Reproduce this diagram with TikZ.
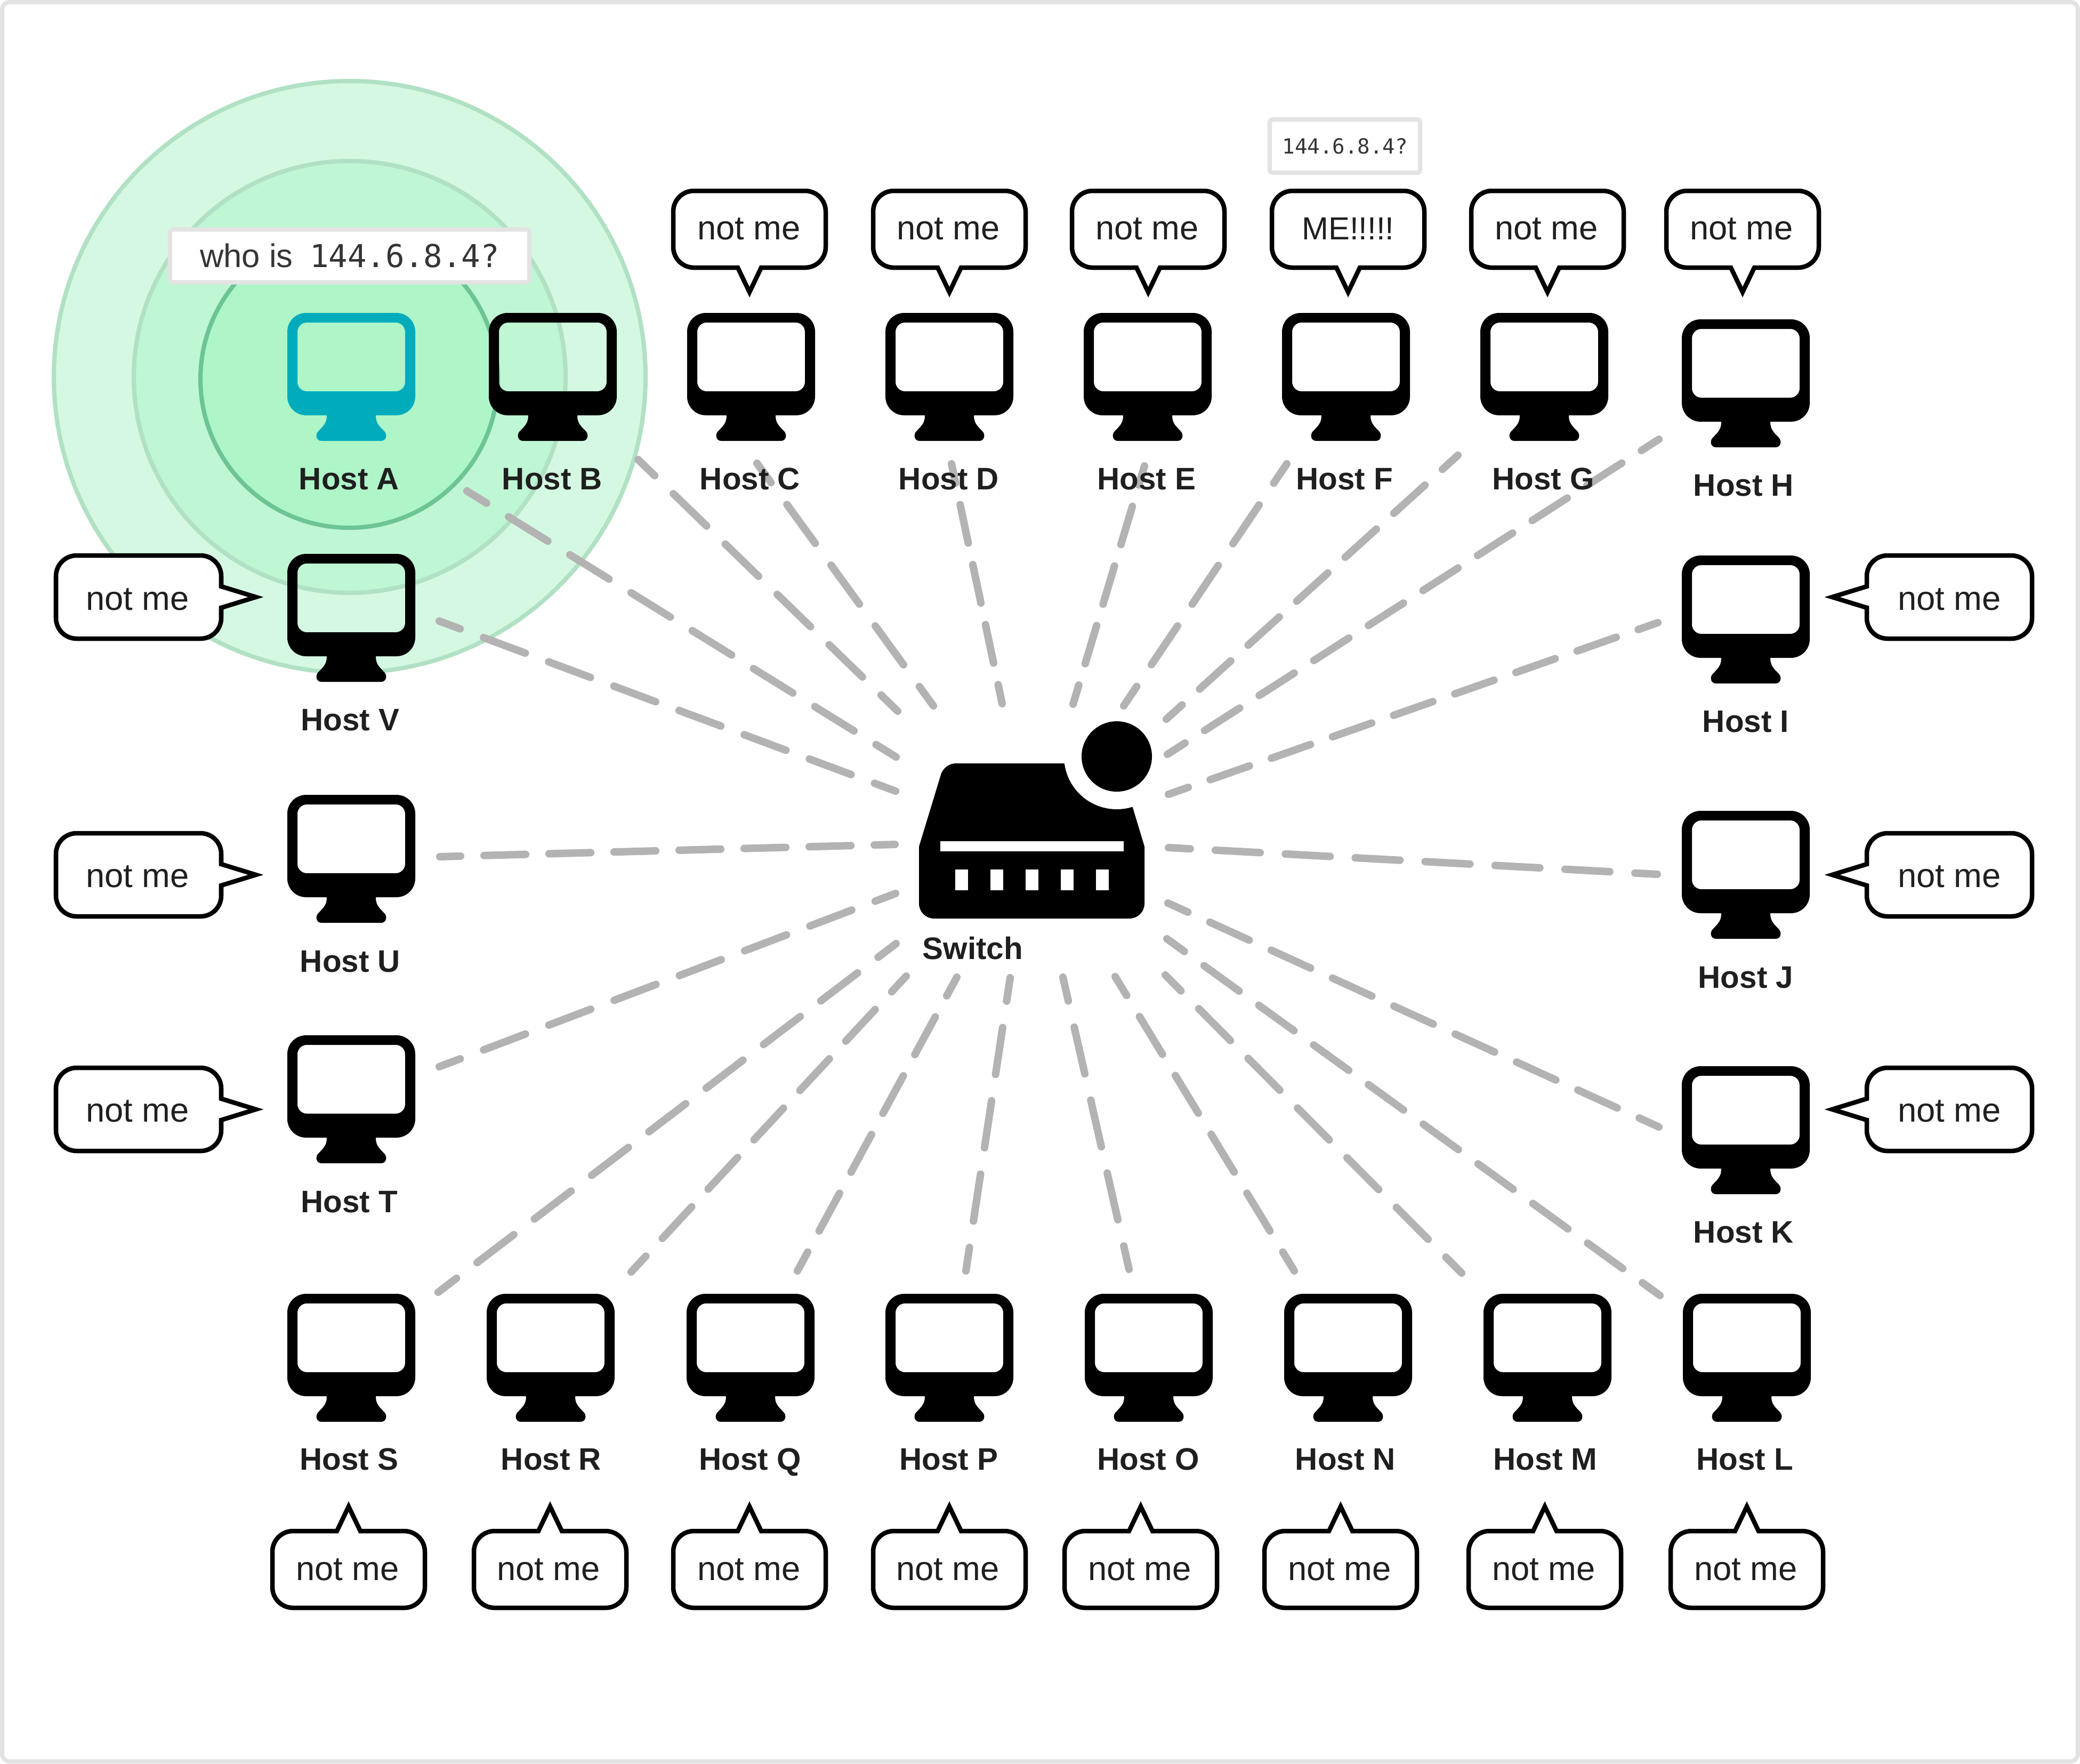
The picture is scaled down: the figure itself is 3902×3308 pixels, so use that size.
\documentclass[tikz,border=0pt]{standalone}
\usepackage{xcolor}
\usepackage{fontspec}
\setmainfont{Liberation Sans}
\newfontfamily\ipfont{DejaVu Sans Mono}
\usepackage{tikz}
\usetikzlibrary{positioning,calc}

\definecolor{framegray}{HTML}{E3E3E3}
\definecolor{wiregray}{HTML}{B3B3B3}
\definecolor{hostteal}{HTML}{00ACBC}
\definecolor{textdark}{HTML}{1F1F1F}
\definecolor{ringline}{HTML}{B1E1C4}
\definecolor{ringinner}{HTML}{6DC494}
\definecolor{ringfillA}{HTML}{D5F8E2}
\definecolor{ringfillB}{HTML}{BFF6D4}
\definecolor{ringfillC}{HTML}{AEF5C8}

\begin{document}
\begin{tikzpicture}[
    x=0.01cm, y=-0.01cm,
    ring/.style={draw=ringline, line width=2.3pt},
    wire/.style={draw=wiregray, line width=4pt, line cap=round,
        dash pattern=on {#1*0.64*0.2845pt} off {#1*0.36*0.2845pt},
        dash phase={#1*0.32*0.2845pt}},
    hostlabel/.style={anchor=base, inner sep=0pt, text=textdark, font=\fontsize{16.6}{20}\selectfont\bfseries},
    saying/.style={anchor=base, inner sep=0pt, text=textdark, font=\fontsize{18}{20}\selectfont},
    askbox/.style={draw=framegray, fill=white, line width=2.3pt, rounded corners=1.5pt, inner sep=0pt, text=textdark!90},
    pics/monitor/.style={code={
        \fill[pic actions, even odd rule] (46,192) [rounded corners=10pt] -- (120,192) -- (120,0) -- (-120,0) -- (-120,192) [sharp corners] -- (-46,192)
            .. controls (-46,205) and (-50,210) .. (-62,222) .. controls (-68,228) and (-66,240) .. (-56,240) -- (56,240)
            .. controls (66,240) and (68,228) .. (62,222) .. controls (50,210) and (46,205) .. (46,192) -- cycle
            (-101,18) [rounded corners=5pt] -- (101,18) -- (101,147) -- (-101,147) -- cycle;
    }},
    pics/bubble/.style n args={4}{code={
        \draw[fill=white, line width=2.42pt, miter limit=10] (-#3,#2) [rounded corners=11pt] -- (-#1,#2) -- (-#1,-#2) -- (#1,-#2) -- (#1,#2) [sharp corners] -- (#3,#2) -- (0,{#2+#4}) -- cycle;
    }},
    node distance=1.2cm
]
    % frame and margins
    \useasboundingbox (0,0) rectangle (3902,3308);
    \draw[draw=framegray, fill=white, line width=2.3pt, rounded corners=4pt] (4,4) rectangle (3898,3304);

    % broadcast rings round host A
    \draw[ring, fill=ringfillA] (656,707) circle[radius=555];
    \draw[ring, fill=ringfillB] (656,707) circle[radius=405];
    \draw[ring, draw=ringinner, fill=ringfillC] (655,711) circle[radius=279];

    % switch
    \fill (1724,1588) [rounded corners=6pt] -- (1771.5,1432) [sharp corners] -- (2100,1432) -- (2147,1588) [rounded corners=8pt] -- (2147,1723) -- (1724,1723) [sharp corners] -- cycle;
    \fill[white] (2095,1419) circle[radius=99];
    \fill (2095,1419) circle[radius=66];
    \fill[white] (1764,1578) rectangle (2108,1597);
    \fill[white] (1792,1631) rectangle (1816,1670);
    \fill[white] (1858,1631) rectangle (1882,1670);
    \fill[white] (1924,1631) rectangle (1948,1670);
    \fill[white] (1990,1631) rectangle (2014,1670);
    \fill[white] (2056,1631) rectangle (2080,1670);
    \node[hostlabel] (switch) at (1825,1799) {Switch};

    % wire ends
    \coordinate (wA) at (876,921);   \coordinate (sA) at (1681,1420);
    \coordinate (wB) at (1197,862);  \coordinate (sB) at (1684,1334);
    \coordinate (wC) at (1420,869);  \coordinate (sC) at (1751,1324);
    \coordinate (wD) at (1785,870);  \coordinate (sD) at (1880,1320);
    \coordinate (wE) at (2147,874);  \coordinate (sE) at (2013,1321);
    \coordinate (wF) at (2414,870);  \coordinate (sF) at (2108,1324);
    \coordinate (wG) at (2735,854);  \coordinate (sG) at (2188,1349);
    \coordinate (wH) at (3112,824);  \coordinate (sH) at (2190,1415);
    \coordinate (wI) at (3110,1168); \coordinate (sI) at (2192,1490);
    \coordinate (wJ) at (3109,1640); \coordinate (sJ) at (2192,1590);
    \coordinate (wK) at (3112,2114); \coordinate (sK) at (2191,1694);
    \coordinate (wL) at (3114,2430); \coordinate (sL) at (2189,1761);
    \coordinate (wM) at (2742,2388); \coordinate (sM) at (2186,1829);
    \coordinate (wN) at (2428,2384); \coordinate (sN) at (2092,1832);
    \coordinate (wO) at (2118,2381); \coordinate (sO) at (1994,1833);
    \coordinate (wP) at (1812,2384); \coordinate (sP) at (1895,1834);
    \coordinate (wQ) at (1496,2384); \coordinate (sQ) at (1795,1833);
    \coordinate (wR) at (1184,2386); \coordinate (sR) at (1700,1831);
    \coordinate (wS) at (822,2424);  \coordinate (sS) at (1681,1770);
    \coordinate (wT) at (824,2001);  \coordinate (sT) at (1680,1676);
    \coordinate (wU) at (825,1607);  \coordinate (sU) at (1679,1584);
    \coordinate (wV) at (824,1165);  \coordinate (sV) at (1680,1484);

    \draw[wire=135.1] (wA) -- (sA);
    \draw[wire=135.6] (wB) -- (sB);
    \draw[wire=140.7] (wC) -- (sC);
    \draw[wire=115.0] (wD) -- (sD);
    \draw[wire=116.6] (wE) -- (sE);
    \draw[wire=136.8] (wF) -- (sF);
    \draw[wire=122.8] (wG) -- (sG);
    \draw[wire=121.6] (wH) -- (sH);
    \draw[wire=121.5] (wI) -- (sI);
    \draw[wire=131.3] (wJ) -- (sJ);
    \draw[wire=126.4] (wK) -- (sK);
    \draw[wire=126.8] (wL) -- (sL);
    \draw[wire=131.4] (wM) -- (sM);
    \draw[wire=129.2] (wN) -- (sN);
    \draw[wire=140.2] (wO) -- (sO);
    \draw[wire=139.0] (wP) -- (sP);
    \draw[wire=125.4] (wQ) -- (sQ);
    \draw[wire=126.3] (wR) -- (sR);
    \draw[wire=135.0] (wS) -- (sS);
    \draw[wire=130.9] (wT) -- (sT);
    \draw[wire=122.0] (wU) -- (sU);
    \draw[wire=130.4] (wV) -- (sV);

    % hosts, top row
    \pic[fill=hostteal] at (659,587) {monitor};
    \pic at (1037,587) {monitor};
    \pic at (1409,587) {monitor};
    \pic at (1781,587) {monitor};
    \pic at (2153,587) {monitor};
    \pic at (2525,587) {monitor};
    \pic at (2897,587) {monitor};
    \pic at (3275,599) {monitor};
    % hosts, left and right columns
    \pic at (659,1039) {monitor};
    \pic at (659,1491) {monitor};
    \pic at (659,1942) {monitor};
    \pic at (3275,1042) {monitor};
    \pic at (3275,1521) {monitor};
    \pic at (3275,2000) {monitor};
    % hosts, bottom row
    \pic at (659,2427) {monitor};
    \pic at (1033,2427) {monitor};
    \pic at (1408,2427) {monitor};
    \pic at (1781,2427) {monitor};
    \pic at (2155,2427) {monitor};
    \pic at (2529,2427) {monitor};
    \pic at (2903,2427) {monitor};
    \pic at (3277,2427) {monitor};

    \node[hostlabel] (hostA) at (655,918) {Host A};
    \node[hostlabel] (hostB) at (1036,918) {Host B};
    \node[hostlabel] (hostC) at (1407,918) {Host C};
    \node[hostlabel] (hostD) at (1780,918) {Host D};
    \node[hostlabel] (hostE) at (2151,918) {Host E};
    \node[hostlabel] (hostF) at (2522,918) {Host F};
    \node[hostlabel] (hostG) at (2895,918) {Host G};
    \node[hostlabel] (hostH) at (3271,930) {Host H};
    \node[hostlabel] (hostI) at (3275,1373) {Host I};
    \node[hostlabel] (hostJ) at (3275,1853) {Host J};
    \node[hostlabel] (hostK) at (3271,2331) {Host K};
    \node[hostlabel] (hostL) at (3273,2757) {Host L};
    \node[hostlabel] (hostM) at (2899,2757) {Host M};
    \node[hostlabel] (hostN) at (2524,2757) {Host N};
    \node[hostlabel] (hostO) at (2154,2757) {Host O};
    \node[hostlabel] (hostP) at (1780,2757) {Host P};
    \node[hostlabel] (hostQ) at (1407,2757) {Host Q};
    \node[hostlabel] (hostR) at (1034,2757) {Host R};
    \node[hostlabel] (hostS) at (655,2757) {Host S};
    \node[hostlabel] (hostT) at (655,2274) {Host T};
    \node[hostlabel] (hostU) at (657,1823) {Host U};
    \node[hostlabel] (hostV) at (657,1370) {Host V};

    % speech bubbles above
    \pic at (1406,430) {bubble={143}{72}{22}{46}};
    \pic at (1781,430) {bubble={143}{72}{22}{46}};
    \pic at (2154,430) {bubble={143}{72}{22}{46}};
    \pic at (2529,430) {bubble={143}{72}{22}{46}};
    \pic at (2903,430) {bubble={143}{72}{22}{46}};
    \pic at (3269,430) {bubble={143}{72}{22}{46}};
    \node[saying] (sayC) at (1405,449) {not me};
    \node[saying] (sayD) at (1779,449) {not me};
    \node[saying] (sayE) at (2152,449) {not me};
    \node[saying, font=\fontsize{17}{20}\selectfont] (sayF) at (2529,449) {ME!!!!!};
    \node[saying] (sayG) at (2901,449) {not me};
    \node[saying] (sayH) at (3267,449) {not me};

    % speech bubbles left and right
    \pic[rotate=90] at (260,1120) {bubble={78}{155}{20}{65}};
    \pic[rotate=90] at (260,1641) {bubble={78}{155}{20}{65}};
    \pic[rotate=90] at (260,2081) {bubble={78}{155}{20}{65}};
    \pic[rotate=-90] at (3657,1120) {bubble={78}{155}{20}{65}};
    \pic[rotate=-90] at (3657,1641) {bubble={78}{155}{20}{65}};
    \pic[rotate=-90] at (3657,2081) {bubble={78}{155}{20}{65}};
    \node[saying] (sayV) at (258,1144) {not me};
    \node[saying] (sayU) at (258,1664) {not me};
    \node[saying] (sayT) at (258,2104) {not me};
    \node[saying] (sayI) at (3657,1144) {not me};
    \node[saying] (sayJ) at (3657,1664) {not me};
    \node[saying] (sayK) at (3657,2104) {not me};

    % speech bubbles below
    \pic[rotate=180] at (654,2944) {bubble={143}{72}{22}{46}};
    \pic[rotate=180] at (1032,2944) {bubble={143}{72}{22}{46}};
    \pic[rotate=180] at (1406,2944) {bubble={143}{72}{22}{46}};
    \pic[rotate=180] at (1781,2944) {bubble={143}{72}{22}{46}};
    \pic[rotate=180] at (2140,2944) {bubble={143}{72}{22}{46}};
    \pic[rotate=180] at (2515,2944) {bubble={143}{72}{22}{46}};
    \pic[rotate=180] at (2898,2944) {bubble={143}{72}{22}{46}};
    \pic[rotate=180] at (3277,2944) {bubble={143}{72}{22}{46}};
    \node[saying] (sayS) at (652,2964) {not me};
    \node[saying] (sayR) at (1029,2964) {not me};
    \node[saying] (sayQ) at (1405,2964) {not me};
    \node[saying] (sayP) at (1778,2964) {not me};
    \node[saying] (sayO) at (2138,2964) {not me};
    \node[saying] (sayN) at (2513,2964) {not me};
    \node[saying] (sayM) at (2896,2964) {not me};
    \node[saying] (sayL) at (3275,2964) {not me};

    % ARP question
    \node[askbox, minimum width=674*0.2845pt, minimum height=99*0.2845pt, font=\fontsize{17.5}{20}\selectfont] (askA) at (656,480) {\raisebox{-1.2pt}{who is\hspace{9pt}{\ipfont\fontsize{16.8}{20}\selectfont 144.6.8.4?}}};
    \node[askbox, minimum width=282*0.2845pt, minimum height=100*0.2845pt, font=\ipfont\fontsize{11.1}{14}\selectfont] (askF) at (2523,274) {\raisebox{-1.2pt}{144.6.8.4?}};
\end{tikzpicture}
\end{document}
